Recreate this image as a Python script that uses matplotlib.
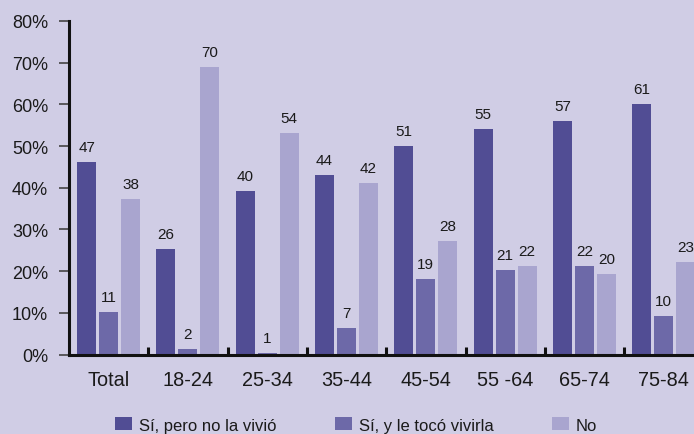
import matplotlib
matplotlib.use("Agg")
import matplotlib.pyplot as plt
import numpy as np

plt.rcParams['font.family'] = ['Liberation Sans', 'DejaVu Sans']

categories = ["Total", "18-24", "25-34", "35-44", "45-54", "55 -64", "65-74", "75-84"]
series_names = ["Sí, pero no la vivió", "Sí, y le tocó vivirla", "No"]
labels_vivio = [47, 26, 40, 44, 51, 55, 57, 61]
labels_toco = [11, 2, 1, 7, 19, 21, 22, 10]
labels_no = [38, 70, 54, 42, 28, 22, 20, 23]
# bar heights as drawn in the picture
heights_vivio = [46.2, 25.4, 39.3, 43.1, 50.1, 54.2, 56.1, 60.1]
heights_toco = [10.1, 1.3, 0.4, 6.3, 18.2, 20.2, 21.2, 9.2]
heights_no = [37.2, 69.0, 53.2, 41.2, 27.2, 21.2, 19.3, 22.2]
yticks = [0, 10, 20, 30, 40, 50, 60, 70, 80]

bg = "#d0cde5"
colors = ["#514d94", "#6d69a8", "#a9a5cf"]

W, H = 694, 435
fig = plt.figure(figsize=(W / 100, H / 100), dpi=100, facecolor=bg)
ax = fig.add_axes([69 / W, 1 - 355.5 / H, 634.4 / W, 333.5 / H])
ax.set_facecolor(bg)

x = np.arange(len(categories))
bw = 19 / 79.3
step = 22 / 79.3
series_h = [heights_vivio, heights_toco, heights_no]
series_l = [labels_vivio, labels_toco, labels_no]
for i, (hs, ls) in enumerate(zip(series_h, series_l)):
    pos = x + (i - 1) * step
    ax.bar(pos, hs, width=bw, color=colors[i], label=series_names[i], zorder=2)
    for p, h, l in zip(pos, hs, ls):
        ax.annotate(str(l), (p, h), xytext=(0, 10.8), textcoords="offset points",
                    ha="center", va="center", fontsize=11, color="#1a1a1a")

ax.set_xlim(-0.5, len(categories) - 0.5)
ax.set_ylim(0, 80)
ax.set_yticks(yticks)
ax.set_yticklabels([f"{v}%" for v in yticks], fontsize=13, color="#1a1a1a")
ax.set_xticks(x)
ax.set_xticklabels(categories, fontsize=14.3, color="#1a1a1a")
ax.set_xticks(np.arange(0.5, len(categories) - 0.5, 1), minor=True)
ax.tick_params(axis="x", which="major", length=0, pad=11)
ax.tick_params(axis="x", which="minor", direction="in", length=6, width=2.2, color="#111111")
ax.tick_params(axis="y", direction="out", length=7, width=1.2, color="#444444", pad=8)

for s in ["top", "right"]:
    ax.spines[s].set_visible(False)
for s in ["left", "bottom"]:
    ax.spines[s].set_linewidth(2.2)
    ax.spines[s].set_color("#111111")
    ax.spines[s].set_zorder(3)

leg = fig.legend(loc="center", bbox_to_anchor=(356 / W, 1 - 426 / H), ncol=3, frameon=False,
                 fontsize=12, handlelength=1.02, handleheight=0.78, handletextpad=0.42,
                 columnspacing=3.5)
for t in leg.get_texts():
    t.set_color("#1a1a1a")

fig.savefig("out.png", dpi=100, facecolor=bg)
